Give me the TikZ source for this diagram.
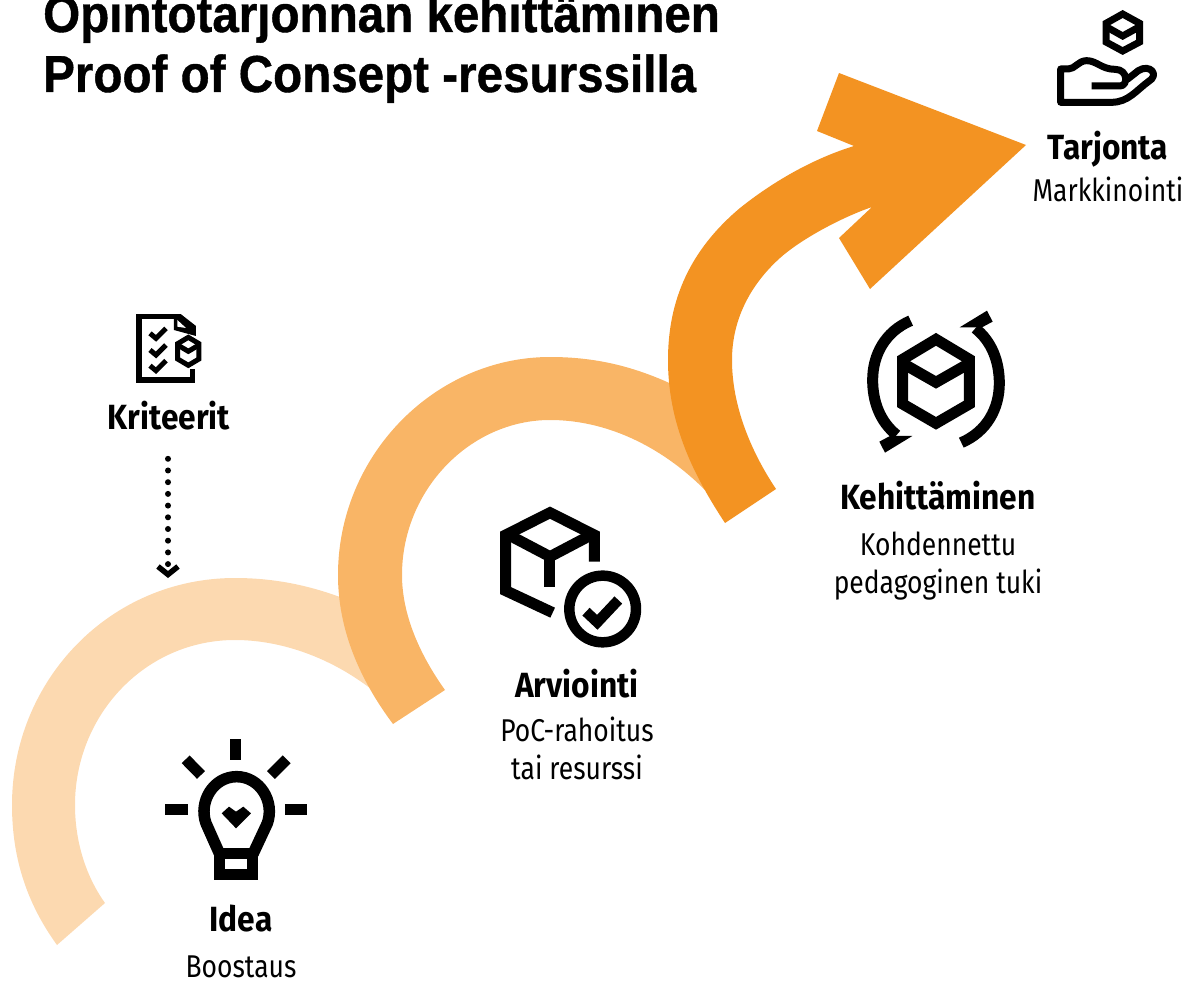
\documentclass[tikz,border=0pt]{standalone}
\usepackage{fontspec}
\setmainfont{Fira Sans}
\newfontfamily\titlefont[FakeStretch=0.915,BoldFeatures={FakeBold=0.8}]{Liberation Sans}
\newfontfamily\labfont[FakeStretch=0.84]{Fira Sans}
\newfontfamily\labbold[FakeStretch=0.905]{Fira Sans}
\usetikzlibrary{arrows.meta}
\definecolor{bandA}{HTML}{FCD9B0}
\definecolor{bandB}{HTML}{F9B566}
\definecolor{bandC}{HTML}{F39322}
\tikzset{
  headtxt/.style={anchor=base,inner sep=0pt,font=\labbold\bfseries\fontsize{35}{40}\selectfont},
  subtxt/.style={anchor=base,inner sep=0pt,font=\labfont\fontsize{31.5}{36}\selectfont},
  titletxt/.style={anchor=base west,inner sep=0pt,font=\titlefont\bfseries\fontsize{52}{56}\selectfont},
  zoomed/.style={x=0.3333pt,y=-0.3333pt},
  ic/.style={draw=black,line width=#1,fill=none},
}
\begin{document}
\begin{tikzpicture}[x=1pt,y=-1pt]
\useasboundingbox (0,0) rectangle (1187,982);
\clip (0,0) rectangle (1187,982);
% bands
\fill[bandA] (57,945) .. controls (28,905) and (12,860) .. (12,805)
  .. controls (12,680) and (110,578) .. (235,578)
  .. controls (285,578) and (325,590) .. (360,605)
  -- (395,710)
  .. controls (350,665) and (290,640) .. (235,640)
  .. controls (145,640) and (75,715) .. (75,805)
  .. controls (75,840) and (85,875) .. (105,903) -- cycle;
\fill[bandB] (393,724) .. controls (360,680) and (338,630) .. (338,575)
  .. controls (338,455) and (435,357) .. (550,357)
  .. controls (595,357) and (635,366) .. (680,388)
  -- (705,490)
  .. controls (660,445) and (605,420) .. (550,420)
  .. controls (470,420) and (402,490) .. (402,575)
  .. controls (402,615) and (420,655) .. (445,690) -- cycle;
\fill[bandC] (725,523) .. controls (690,470) and (668,420) .. (668,360)
  .. controls (668,300) and (690,250) .. (740,208)
  .. controls (775,180) and (815,158) .. (854,146)
  -- (817,131) -- (839,73) -- (1026,145) -- (870,289) -- (839,238) -- (872,207)
  .. controls (840,218) and (800,240) .. (780,258)
  .. controls (750,285) and (732,320) .. (732,360)
  .. controls (732,405) and (750,450) .. (776,489) -- cycle;
% title
\node[titletxt] (t1) at (43,32) {Opintotarjonnan kehittäminen};
\node[titletxt] (t2) at (43,92) {Proof of Consept -resurssilla};
% labels
\node[headtxt] (tarjonta) at (1108,159) {Tarjonta};
\node[subtxt] (markk) at (1108,201) {Markkinointi};
\node[headtxt] (kehit) at (938,509) {Kehittäminen};
\node[subtxt] (kohd) at (938,555) {Kohdennettu};
\node[subtxt] (peda) at (938,593) {pedagoginen tuki};
\node[headtxt] (arvi) at (577,697) {Arviointi};
\node[subtxt] (poc) at (577,741) {PoC-rahoitus};
\node[subtxt] (tai) at (577,779) {tai resurssi};
\node[headtxt] (idea) at (241,931) {Idea};
\node[subtxt] (boost) at (241,977) {Boostaus};
\node[headtxt] (krit) at (169,429) {Kriteerit};
% dotted connector
\coordinate (kend) at (168,578);
\draw[line width=6pt,line cap=round,dash pattern=on 0pt off 11.7pt,shorten <=29pt,
  -{Straight Barb[length=8pt,width=20pt,line width=5.5pt,line cap=butt]}]
  (krit.south -| kend) -- (kend);
% Kriteerit icon
\begin{scope}[shift={(100,300)},zoomed]
  \draw[ic=5.5pt] (228,50) -- (117,50) -- (117,240) -- (278,240) -- (278,208);
  \fill (222,42) -- (242,42) -- (288,78) -- (288,108) -- (222,90) -- cycle;
  \fill[white] (232,60) -- (258,84) -- (232,80) -- cycle;
  \draw[line width=5pt] (150,100) -- (168,115) -- (198,85);
  \draw[line width=5pt] (150,150) -- (168,165) -- (198,135);
  \draw[line width=5pt] (150,197) -- (168,212) -- (198,182);
  \draw[ic=5pt] (265,112) -- (297,131) -- (297,177) -- (265,196) -- (233,177) -- (233,131) -- cycle;
  \draw[line width=5pt] (233,135) -- (265,154) -- (297,135);
\end{scope}
% hand icon
\begin{scope}[shift={(1040,0)},zoomed]
  \draw[ic=7pt] (248,42) -- (299,70) -- (299,126) -- (248,153) -- (198,126) -- (198,70) -- cycle;
  \draw[line width=7pt] (198,80) -- (248,108) -- (299,80);
  \draw[ic=7pt,line join=round] (155,258) -- (240,258)
    .. controls (265,258) and (265,208) .. (225,208)
    .. controls (185,208) and (170,182) .. (140,182)
    .. controls (115,182) and (105,207) .. (85,207)
    -- (62,207) -- (62,307) -- (215,307)
    .. controls (265,307) and (290,270) .. (325,245)
    .. controls (360,225) and (330,190) .. (295,212)
    -- (262,238);
\end{scope}
% cycle icon
\begin{scope}[shift={(850,300)},zoomed]
  \draw[ic=11pt] (258,118) -- (358,178) -- (358,312) -- (258,370) -- (158,312) -- (158,178) -- cycle;
  \draw[line width=11pt] (158,190) -- (258,247) -- (358,190);
  \draw[ic=11pt] (182,62) .. controls (105,95) and (68,165) .. (68,240)
    .. controls (68,305) and (90,365) .. (140,405);
  \fill (88,425) -- (120,408) -- (187,408) -- (105,458) -- cycle;
  \draw[ic=11pt] (334,428) .. controls (411,395) and (448,325) .. (448,250)
    .. controls (448,185) and (426,125) .. (376,85);
  \fill (428,65) -- (396,82) -- (329,82) -- (411,32) -- cycle;
\end{scope}
% box/check icon
\begin{scope}[shift={(490,500)},zoomed]
  \draw[line width=11pt] (188,338) -- (47,272) -- (47,105) -- (180,38) -- (313,105) -- (313,185);
  \draw[line width=11pt] (47,100) -- (180,170) -- (313,100);
  \draw[line width=11pt] (180,170) -- (180,262);
  \draw[line width=10.5pt] (338,327) circle[radius=100];
  \draw[line width=10.5pt] (288,335) -- (322,367) -- (385,300);
\end{scope}
% bulb icon
\begin{scope}[shift={(155,730)},zoomed]
  \foreach \a/\b/\c/\d in {242/28/242/90, 92/88/138/135, 395/88/348/135, 30/240/98/240, 390/240/455/240}
    \draw[line width=11pt] (\a,\b) -- (\c,\d);
  \draw[ic=11.5pt,line join=round] (194,372) -- (153,280)
    .. controls (130,215) and (175,140) .. (245,140)
    .. controls (315,140) and (360,215) .. (337,280) -- (294,372);
  \draw[ic=11pt] (194,372) rectangle (294,435);
  \fill (200,250) -- (222,230) -- (243,245) -- (265,230) -- (288,250) -- (243,295) -- cycle;
\end{scope}
\end{tikzpicture}
\end{document}
